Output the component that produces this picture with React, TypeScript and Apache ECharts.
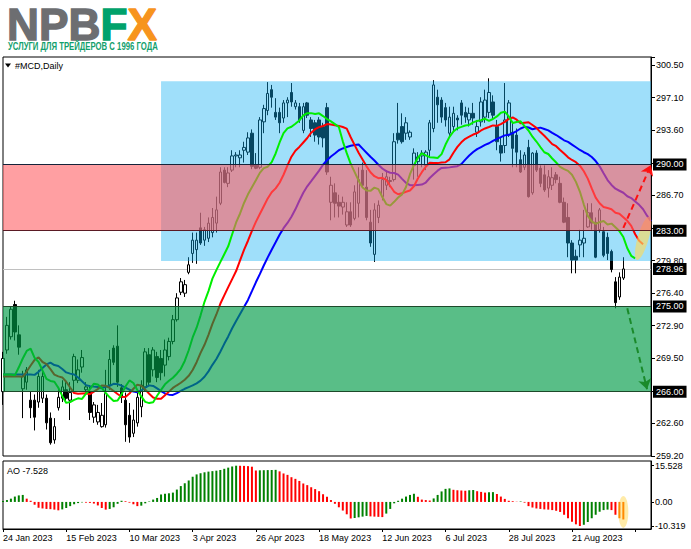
import React, { useEffect, useRef } from "react";
import * as echarts from "echarts";

// ---------- data ----------
const OPEN = [
  266.0, 270.4, 271.8, 275.2, 272.0, 266.3, 267.0, 265.1, 265.1, 264.9,
  265.3, 265.3, 263.2, 260.9, 264.3, 265.3, 266.2, 265.1, 267.2, 267.2,
  268.6, 266.2, 266.0, 263.3, 262.8, 262.3, 262.5, 266.7, 270.6, 270.8,
  266.4, 265.1, 263.5, 261.6, 262.7, 264.4, 266.5, 269.9, 268.3, 269.7,
  269.5, 268.8, 269.7, 271.3, 273.6, 276.5, 276.4, 278.6, 280.6, 281.0,
  283.3, 282.0, 282.2, 282.8, 283.8, 285.9, 289.4, 288.0, 289.4, 290.9,
  290.7, 291.5, 291.3, 293.3, 289.9, 289.7, 294.5, 295.7, 297.9, 295.5,
  295.5, 294.9, 296.5, 297.6, 296.1, 296.1, 293.6, 296.5, 294.7, 294.4,
  294.7, 294.0, 296.0, 286.0, 287.0, 286.0, 285.5, 283.6, 285.0, 284.3,
  285.9, 289.4, 287.6, 283.9, 280.5, 284.4, 286.6, 287.8, 288.3, 288.4,
  293.3, 294.0, 293.3, 292.9, 289.9, 290.3, 290.9, 289.9, 291.5, 293.8,
  297.1, 296.8, 296.0, 293.3, 294.0, 294.9, 296.5, 295.5, 294.7, 295.4,
  293.4, 294.5, 295.0, 295.5, 296.6, 294.0, 292.0, 292.0, 293.1, 293.4,
  293.1, 290.5, 289.7, 291.8, 287.0, 291.2, 289.6, 288.9, 287.5, 287.8,
  288.9, 288.0, 286.0, 284.4, 281.7, 280.3, 281.5, 281.7, 283.4, 284.9,
  283.9, 283.1, 282.9, 282.3, 280.8, 277.6, 276.0, 278.0,
];
const CLOSE = [
  269.5, 273.0, 274.7, 272.3, 270.7, 267.6, 268.3, 264.3, 263.3, 267.6,
  267.6, 262.7, 260.6, 262.3, 265.4, 266.5, 265.3, 265.9, 269.7, 268.3,
  269.6, 266.5, 263.8, 264.6, 263.8, 263.5, 265.8, 269.4, 269.1, 267.0,
  265.4, 262.5, 261.2, 263.0, 265.4, 266.7, 270.2, 267.0, 270.4, 267.5,
  268.0, 270.4, 271.3, 273.6, 275.9, 277.6, 277.3, 279.4, 282.0, 282.0,
  281.7, 283.1, 283.8, 284.4, 285.2, 289.2, 288.1, 289.1, 290.9, 291.0,
  291.0, 291.8, 292.8, 289.8, 289.6, 294.7, 295.9, 297.5, 297.1, 295.0,
  294.4, 296.5, 296.8, 296.6, 296.5, 294.7, 296.1, 295.2, 293.8, 293.1,
  292.9, 292.8, 289.2, 287.8, 285.9, 285.6, 286.0, 285.0, 283.6, 287.1,
  288.4, 287.8, 284.4, 281.7, 285.2, 285.7, 288.4, 288.7, 288.2, 292.4,
  292.6, 292.4, 294.4, 293.4, 291.2, 290.8, 291.2, 291.3, 294.4, 298.4,
  296.3, 295.0, 294.7, 295.0, 295.4, 294.7, 295.2, 295.0, 295.4, 294.9,
  294.0, 296.6, 296.8, 297.6, 295.2, 292.4, 291.2, 294.7, 296.5, 291.7,
  291.3, 289.2, 291.0, 286.6, 291.2, 289.4, 288.0, 287.3, 288.7, 288.6,
  288.4, 286.0, 283.9, 281.7, 279.9, 279.9, 282.0, 282.2, 284.9, 283.8,
  280.2, 285.2, 280.4, 280.6, 278.9, 275.4, 278.1, 278.96,
];
const LOW = [
  264.6, 270.0, 271.5, 271.4, 269.9, 263.2, 266.2, 263.2, 261.9, 264.3,
  264.8, 262.0, 260.4, 260.5, 264.0, 264.9, 264.9, 263.0, 265.9, 266.9,
  268.0, 265.9, 263.0, 262.7, 262.5, 262.2, 262.2, 266.2, 268.8, 266.5,
  264.8, 260.7, 260.6, 261.2, 262.3, 263.3, 266.0, 266.7, 267.6, 267.0,
  267.2, 267.6, 269.3, 271.0, 273.4, 276.2, 276.0, 278.4, 279.6, 279.5,
  281.5, 281.4, 281.8, 282.3, 282.8, 285.7, 288.0, 287.6, 289.2, 289.7,
  289.7, 290.2, 291.0, 289.5, 289.5, 289.5, 293.3, 295.2, 296.0, 294.7,
  293.3, 294.4, 295.0, 296.1, 295.8, 294.4, 293.3, 294.9, 292.9, 292.4,
  292.1, 291.8, 288.9, 284.1, 284.4, 284.4, 284.7, 283.4, 283.4, 284.1,
  284.4, 287.6, 284.1, 281.3, 279.7, 283.8, 286.2, 287.3, 287.6, 288.2,
  292.2, 292.2, 292.6, 292.6, 288.4, 288.7, 289.7, 289.4, 290.8, 293.4,
  294.4, 294.4, 294.0, 292.9, 293.4, 293.6, 294.2, 294.4, 294.0, 294.2,
  292.9, 294.0, 294.4, 294.9, 294.7, 291.5, 290.3, 291.2, 292.9, 289.7,
  289.7, 289.1, 289.4, 286.5, 286.8, 289.2, 287.6, 287.1, 286.5, 287.3,
  288.0, 285.9, 283.8, 280.2, 278.5, 278.5, 280.2, 280.2, 283.3, 283.1,
  280.1, 282.8, 280.2, 279.9, 278.6, 274.8, 275.7, 277.8,
];
const HIGH = [
  270.2, 273.9, 275.0, 275.6, 273.0, 268.2, 268.6, 266.0, 265.7, 268.3,
  268.6, 265.7, 263.8, 263.2, 266.5, 267.2, 267.0, 267.0, 270.0, 269.4,
  270.4, 267.0, 266.7, 264.9, 264.6, 264.8, 268.3, 270.4, 270.9, 273.0,
  266.8, 265.9, 264.8, 264.1, 266.2, 267.2, 270.6, 270.6, 270.7, 270.2,
  270.4, 271.5, 271.7, 274.1, 276.4, 278.0, 277.8, 280.2, 282.8, 282.8,
  284.9, 283.4, 284.4, 285.4, 286.6, 289.7, 289.7, 289.7, 291.5, 291.3,
  291.5, 292.4, 293.4, 293.7, 291.2, 295.0, 296.3, 298.7, 298.4, 297.0,
  296.0, 296.8, 297.1, 298.6, 296.8, 296.5, 296.5, 296.6, 295.0, 294.7,
  295.0, 294.4, 296.5, 288.7, 288.0, 286.8, 286.6, 286.0, 286.0, 287.8,
  289.7, 290.2, 289.4, 285.2, 285.9, 286.2, 289.1, 289.4, 288.7, 293.3,
  296.5, 295.4, 295.0, 293.6, 291.7, 291.3, 291.5, 291.5, 294.7, 298.9,
  297.9, 297.1, 296.5, 296.1, 296.1, 295.2, 296.8, 296.1, 296.0, 296.5,
  294.7, 297.1, 297.9, 299.1, 297.3, 294.7, 292.9, 298.6, 296.8, 294.4,
  293.8, 291.5, 291.3, 292.6, 291.3, 291.5, 289.9, 289.9, 289.4, 289.7,
  289.2, 288.7, 286.5, 285.9, 282.0, 281.0, 283.1, 285.2, 285.9, 285.9,
  284.4, 285.4, 283.4, 282.8, 281.0, 278.1, 278.6, 280.2,
];
const AO = [
  0.4, 0.8, 1.4, 2.3, 2.8, 3.0, 1.4, 0.5, -1.2, -2.5,
  -2.8, -3.0, -3.1, -3.3, -3.6, -3.2, -2.6, -1.8, -1.0, -0.5,
  -0.2, -0.3, -0.4, -0.7, -1.5, -2.6, -3.3, -3.0, -2.3, -0.8,
  0.5, 0.3, -0.3, -1.0, -1.8, -1.6, -0.6, 0.2, 1.0, 1.7,
  3.2, 3.5, 3.7, 4.0, 5.3, 6.8, 8.0, 9.2, 10.8, 11.8,
  12.3, 12.7, 13.0, 13.2, 13.4, 13.7, 14.2, 14.7, 15.2, 15.528,
  15.5, 15.45, 15.35, 15.1, 13.5, 13.55, 13.6, 13.65, 13.7, 13.75,
  13.1, 12.2, 11.6, 10.6, 9.9, 9.0, 7.9, 7.2, 6.3, 5.5,
  4.6, 3.3, 2.2, 0.8, -0.8, -2.3, -3.7, -5.3, -7.1, -6.9,
  -6.6, -6.3, -6.0, -6.2, -6.3, -6.4, -6.5, -5.0, -3.0, -0.6,
  0.5, 1.4, 2.3, 3.0, 3.5, 2.2, 1.0, 0.8, 0.6, 1.5,
  3.0, 4.5, 5.6, 5.8, 5.2, 5.0, 4.9, 4.8, 5.0, 5.1,
  4.6, 4.3, 4.0, 4.1, 4.2, 3.4, 2.3, 1.3, 0.5, 0.3,
  0.1, 0.2, -0.3, -1.8, -2.4, -2.8, -3.0, -3.2, -3.3, -3.5,
  -3.8, -4.3, -5.5, -7.0, -8.5, -9.6, -10.319, -9.8, -8.6, -7.0,
  -5.5, -4.2, -3.5, -3.3, -3.5, -5.5, -7.0, -7.528,
];

// calendar of the daily bars
const FIRST_DAY = "2023-01-24";
const HOLIDAYS = ["2023-02-20", "2023-04-07", "2023-05-29", "2023-06-19", "2023-07-04", "2023-09-04"];
const FUTURE_SLOTS = 7;
const MONTHS = ["Jan", "Feb", "Mar", "Apr", "May", "Jun", "Jul", "Aug", "Sep", "Oct", "Nov", "Dec"];

// axes
const PRICE_MIN = 259.2;
const PRICE_MAX = 301.35;
const PRICE_STEP = (300.5 - 259.2) / 12;
const PRICE_TICK_LABELS = ["259.20", "262.60", "", "269.50", "272.90", "276.40", "279.80", "", "286.70", "", "293.60", "297.10", "300.50"];
const AO_MIN = -11.605;
const AO_MAX = 17.545;
const AO_TICKS = [15.528, 0, -10.319];
const AO_TICK_LABELS = ["15.528", "0.00", "-10.319"];

// annotations
const LEVELS = [290, 283, 275, 266];
const LEVEL_COLORS = ["#15233a", "#5a1a24", "#1d4a2a", "#1d4a2a"];
const LAST_PRICE = 278.96;
const BLUE_ZONE = { from: 39.5, low: 279.8, high: 298.8 };
const RED_ZONE = { low: 283, high: 290 };
const GREEN_ZONE = { low: 266, high: 275 };
const UP_ARROW = [[156.7, 283.3], [163.5, 289.95]];
const DOWN_ARROW = [[157.8, 274.8], [163.3, 266.25]];
const PRICE_HIGHLIGHT = [161.5, 282.2];
const AO_HIGHLIGHT = [156.7, -4.3];

// Alligator settings (seed = level of each line at the left edge)
const JAW = { period: 13, shift: 8, seed: 267.8, color: "#0000ff" };
const TEETH = { period: 8, shift: 5, seed: 267.6, color: "#ff0000" };
const LIPS = { period: 5, shift: 3, seed: 267.8, color: "#00ee00" };

const FONT = "'Liberation Sans', Arial, sans-serif";
const LOGO_PARTS = [
  { text: "NPB", color: "#6d6e71" },
  { text: "F", color: "#00a26b" },
  { text: "X", color: "#f7941d" },
];
const SUBTITLE = "УСЛУГИ ДЛЯ ТРЕЙДЕРОВ С 1996 ГОДА";

function tradingDays(start: string, count: number, holidays: string[]) {
  const out: string[] = [];
  const d = new Date(start + "T00:00:00Z");
  while (out.length < count) {
    const dow = d.getUTCDay();
    const iso = d.toISOString().slice(0, 10);
    if (dow !== 0 && dow !== 6 && !holidays.includes(iso)) out.push(iso);
    d.setUTCDate(d.getUTCDate() + 1);
  }
  return out;
}

function fmtDate(v: string) {
  if (!/^\d{4}-\d{2}-\d{2}$/.test(v)) return "";
  const [y, m, d] = v.split("-");
  return `${+d} ${MONTHS[+m - 1]} ${y}`;
}

function measure(text: string, font: string) {
  const c = document.createElement("canvas").getContext("2d");
  if (!c) return text.length * 7;
  c.font = font;
  return c.measureText(text).width;
}

function alligator(cfg: { period: number; shift: number; seed: number }, total: number) {
  const vals: number[] = [];
  let prev = cfg.seed;
  for (let k = 0; k < OPEN.length; k++) {
    const median = (HIGH[k] + LOW[k]) / 2;
    prev = (prev * (cfg.period - 1) + median) / cfg.period;
    vals.push(prev);
  }
  const out: (number | null)[] = [];
  for (let j = 0; j < total; j++) {
    const k = j - cfg.shift;
    if (k < 0) out.push(cfg.seed);
    else if (k < vals.length) out.push(Math.round(vals[k] * 100) / 100);
    else out.push(null);
  }
  return out;
}

function buildOption() {
  const N = OPEN.length;
  const dates = tradingDays(FIRST_DAY, N, HOLIDAYS);
  const cats = dates.concat(Array.from({ length: FUTURE_SLOTS }, (_, i) => `+${i + 1}`));
  const total = cats.length;
  const last = total - 1;

  const candles = OPEN.map((o, i) => [o, CLOSE[i], LOW[i], HIGH[i]]);
  const aoBars = AO.map((v, i) => ({
    value: v,
    itemStyle: {
      color: i >= AO.length - 2 ? "#ff8a00" : i === 0 || v > AO[i - 1] ? "#008000" : "#ff0000",
    },
  }));

  // logo letters laid out from measured widths, stretched to the reference box
  const logoFont = `bold 40px ${FONT}`;
  const logoScaleX = 150 / measure(LOGO_PARTS.map((p) => p.text).join(""), logoFont);
  const logoScaleY = 31.5 / (0.716 * 40);
  let logoX = 7;
  const logoTexts = LOGO_PARTS.map((p) => {
    const el = {
      type: "text",
      x: logoX,
      y: 25,
      scaleX: logoScaleX,
      scaleY: logoScaleY,
      silent: true,
      style: { text: p.text, font: logoFont, fill: p.color, stroke: p.color, lineWidth: 1.2, verticalAlign: "middle" },
    };
    logoX += measure(p.text, logoFont) * logoScaleX;
    return el;
  });
  const subFont = `bold 11px ${FONT}`;
  const subScale = 150 / measure(SUBTITLE, subFont);

  const lineSeries = (name: string, cfg: any) => ({
    name,
    type: "line",
    xAxisIndex: 0,
    yAxisIndex: 0,
    data: alligator(cfg, total),
    showSymbol: false,
    symbol: "none",
    silent: true,
    z: 4,
    lineStyle: { color: cfg.color, width: 2 },
  });

  const zoneSeries = (z: number, area: any[], color: string) => ({
    type: "line",
    xAxisIndex: 0,
    yAxisIndex: 0,
    data: [],
    silent: true,
    z,
    markArea: { silent: true, z, itemStyle: { color }, data: [area] },
  });

  const boxLabel = {
    show: true,
    position: "end",
    distance: 2,
    formatter: (p: any) => Number(p.value).toFixed(2),
    color: "#fff",
    backgroundColor: "#000",
    padding: [2, 3, 1, 3],
    fontSize: 9,
    fontFamily: FONT,
  };

  return {
    animation: false,
    backgroundColor: "#ffffff",
    textStyle: { fontFamily: FONT },
    grid: [
      { left: 3, top: 57, width: 648, height: 399, show: true, borderColor: "#000", borderWidth: 1, backgroundColor: "transparent" },
      { left: 3, top: 461, width: 648, height: 68, show: true, borderColor: "#000", borderWidth: 1, backgroundColor: "transparent" },
    ],
    xAxis: [
      { type: "category", gridIndex: 0, data: cats, boundaryGap: false, show: false },
      {
        type: "category",
        gridIndex: 1,
        data: cats,
        boundaryGap: false,
        axisLine: { onZero: false, lineStyle: { color: "#000", width: 1 } },
        axisTick: { interval: 15, length: 3, lineStyle: { color: "#000" } },
        axisLabel: {
          interval: 15,
          align: "left",
          margin: 4,
          fontSize: 9,
          color: "#000",
          fontFamily: FONT,
          formatter: (v: string) => fmtDate(v),
        },
        splitLine: { show: false },
      },
    ],
    yAxis: [
      {
        type: "value",
        gridIndex: 0,
        position: "right",
        min: PRICE_MIN,
        max: PRICE_MAX,
        interval: PRICE_STEP,
        axisLine: { show: true, lineStyle: { color: "#000" } },
        axisTick: { show: true, length: 4, lineStyle: { color: "#000" } },
        splitLine: { show: false },
        axisLabel: {
          margin: 5,
          fontSize: 9,
          color: "#000",
          fontFamily: FONT,
          formatter: (v: number) => {
            const k = Math.round((v - PRICE_MIN) / PRICE_STEP);
            if (Math.abs(v - (PRICE_MIN + k * PRICE_STEP)) > 0.05) return "";
            return PRICE_TICK_LABELS[k] || "";
          },
        },
      },
      {
        type: "value",
        gridIndex: 1,
        position: "right",
        min: AO_MIN,
        max: AO_MAX,
        axisLine: { show: true, lineStyle: { color: "#000" } },
        axisTick: { show: true, length: 3, customValues: AO_TICKS, lineStyle: { color: "#000" } },
        splitLine: { show: false },
        axisLabel: {
          margin: 4,
          fontSize: 9,
          color: "#000",
          fontFamily: FONT,
          customValues: AO_TICKS,
          formatter: (v: number) => {
            const idx = AO_TICKS.findIndex((t) => Math.abs(t - v) < 0.001);
            return idx >= 0 ? AO_TICK_LABELS[idx] : "";
          },
        },
      },
    ],
    series: [
      {
        type: "candlestick",
        xAxisIndex: 0,
        yAxisIndex: 0,
        data: candles,
        barWidth: 3,
        z: 2,
        silent: true,
        itemStyle: { color: "#ffffff", color0: "#000000", borderColor: "#000000", borderColor0: "#000000", borderWidth: 1 },
        markLine: {
          silent: true,
          z: 2,
          symbol: ["none", "none"],
          lineStyle: { color: "#c0c0c0", width: 1, type: "solid" },
          label: boxLabel,
          data: [{ yAxis: LAST_PRICE }],
        },
      },
      zoneSeries(3, [{ coord: [BLUE_ZONE.from, BLUE_ZONE.low] }, { coord: [last, BLUE_ZONE.high] }], "rgba(15,175,243,0.4)"),
      lineSeries("Jaw", JAW),
      lineSeries("Teeth", TEETH),
      lineSeries("Lips", LIPS),
      {
        type: "scatter",
        xAxisIndex: 0,
        yAxisIndex: 0,
        data: [PRICE_HIGHLIGHT],
        symbol: "circle",
        symbolSize: [11, 45],
        symbolRotate: -16,
        silent: true,
        z: 4,
        itemStyle: { color: "rgba(246,218,100,0.85)" },
      },
      zoneSeries(5, [{ coord: [0, RED_ZONE.low] }, { coord: [last, RED_ZONE.high] }], "rgba(255,95,100,0.6)"),
      zoneSeries(5, [{ coord: [0, GREEN_ZONE.low] }, { coord: [last, GREEN_ZONE.high] }], "rgba(0,155,70,0.65)"),
      {
        type: "line",
        xAxisIndex: 0,
        yAxisIndex: 0,
        data: [],
        silent: true,
        z: 6,
        markLine: {
          silent: true,
          z: 6,
          symbol: ["none", "none"],
          label: boxLabel,
          data: LEVELS.map((v, i) => ({ yAxis: v, lineStyle: { color: LEVEL_COLORS[i], width: 1, type: "solid" } })),
        },
      },
      {
        type: "line",
        xAxisIndex: 0,
        yAxisIndex: 0,
        data: [],
        silent: true,
        z: 7,
        markLine: {
          silent: true,
          z: 7,
          symbol: ["none", "arrow"],
          symbolSize: 10,
          label: { show: false },
          data: [
            [
              { coord: UP_ARROW[0], lineStyle: { color: "#ff1010", width: 2, type: [6, 4] } },
              { coord: UP_ARROW[1] },
            ],
            [
              { coord: DOWN_ARROW[0], lineStyle: { color: "#1a8a2a", width: 2, type: [6, 4] } },
              { coord: DOWN_ARROW[1] },
            ],
          ],
        },
      },
      {
        type: "scatter",
        xAxisIndex: 1,
        yAxisIndex: 1,
        data: [AO_HIGHLIGHT],
        symbol: "circle",
        symbolSize: [10, 32],
        silent: true,
        z: 1,
        itemStyle: { color: "rgba(255,222,110,0.75)" },
      },
      {
        type: "bar",
        xAxisIndex: 1,
        yAxisIndex: 1,
        data: aoBars,
        barWidth: 2,
        silent: true,
        z: 2,
      },
    ],
    graphic: [
      ...logoTexts,
      {
        type: "text",
        x: 8,
        y: 46,
        scaleX: subScale,
        silent: true,
        style: { text: SUBTITLE, font: subFont, fill: "#12a06c", verticalAlign: "middle" },
      },
      {
        type: "polygon",
        silent: true,
        shape: { points: [[5, 63.5], [11, 63.5], [8, 67.5]] },
        style: { fill: "#000" },
      },
      {
        type: "text",
        x: 15,
        y: 66,
        silent: true,
        style: { text: "#MCD,Daily", font: `9px ${FONT}`, fill: "#000", verticalAlign: "middle" },
      },
      {
        type: "text",
        x: 7,
        y: 471,
        silent: true,
        style: { text: "AO -7.528", font: `9px ${FONT}`, fill: "#000", verticalAlign: "middle" },
      },
    ],
  };
}

export default function App() {
  const ref = useRef<HTMLDivElement>(null);
  useEffect(() => {
    if (!ref.current) return;
    const chart = echarts.init(ref.current, null, { renderer: "svg" });
    chart.setOption(buildOption() as any);
    return () => chart.dispose();
  }, []);
  return (
    <div
      ref={ref}
      style={{ position: "fixed", left: 0, top: 0, width: 691, height: 549, background: "#fff" }}
    />
  );
}
